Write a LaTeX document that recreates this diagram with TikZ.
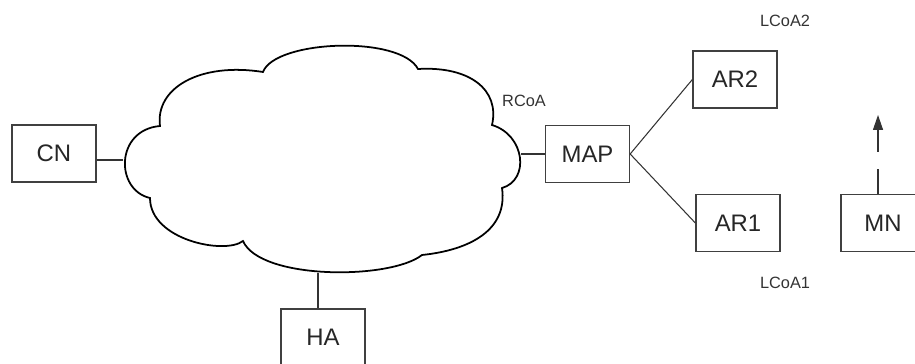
\documentclass[tikz,border=0pt]{standalone}
\usepackage{fontspec}
\setmainfont{Liberation Sans}
\usetikzlibrary{arrows.meta}
\tikzset{
  netbox/.style={draw=black!75, line width=0.75pt, minimum width=1.68cm, minimum height=1.14cm, inner sep=0pt, text=black!85, font=\fontsize{13.6}{15}\selectfont},
  addr/.style={text=black!80, font=\fontsize{9.3}{10}\selectfont},
  link/.style={draw=black!80, line width=0.6pt}
}

\begin{document}
\begin{tikzpicture}[x=0.02cm, y=-0.02cm]
			%%%%% START %%%%%
			\useasboundingbox (0,0) rectangle (915,364);
			
			% the cloud
			\draw[line width=1pt] (160,126) .. controls (155,88) and (200,62) .. (263,72)
			  .. controls (275,40) and (400,35) .. (418,69)
			  .. controls (470,66) and (500,90) .. (492,125)
			  .. controls (525,135) and (530,180) .. (502,188)
			  .. controls (508,230) and (470,250) .. (422,255)
			  .. controls (390,280) and (260,280) .. (243,241)
			  .. controls (225,255) and (150,240) .. (150,198)
			  .. controls (115,190) and (115,130) .. (160,126) -- cycle;
			\coordinate (cloudW) at (123,160);
			\coordinate (cloudE) at (521,154);
			\coordinate (cloudS) at (318,273);
			
			\node[netbox] (CN) at (54,153.5) {CN};
			\node[netbox] (HA) at (323,337.5) {HA};
			\node[netbox] (MAP) at (587.5,154) {MAP};
			\node[netbox] (AR2) at (735,79.5) {AR2};
			\node[netbox] (AR1) at (738,223) {AR1};
			\node[netbox] (MN) at (883,223) {MN};
			
			\node[addr] (rcoa) at (524,101) {RCoA};
			\node[addr] (lcoa2) at (785,21) {LCoA2};
			\node[addr] (lcoa1) at (785,283) {LCoA1};
			
			\draw[link] (cloudW) -- (cloudW -| CN.east);
			\draw[link] (cloudE) -- (MAP.west);
			\draw[link] (cloudS) -- (cloudS |- HA.north);
			\draw[link] (MAP.east) -- (AR2.west);
			\draw[link] (MAP.east) -- (AR1.west);
			
			% movement of MN
			\coordinate (move) at (878,115);
			\draw[link, dash pattern=on 14pt off 10pt, -{Triangle[length=8.5pt, width=5.7pt]}] (move |- MN.north) -- (move);
			
			%%%%% END %%%%%
		\end{tikzpicture}
\end{document}
